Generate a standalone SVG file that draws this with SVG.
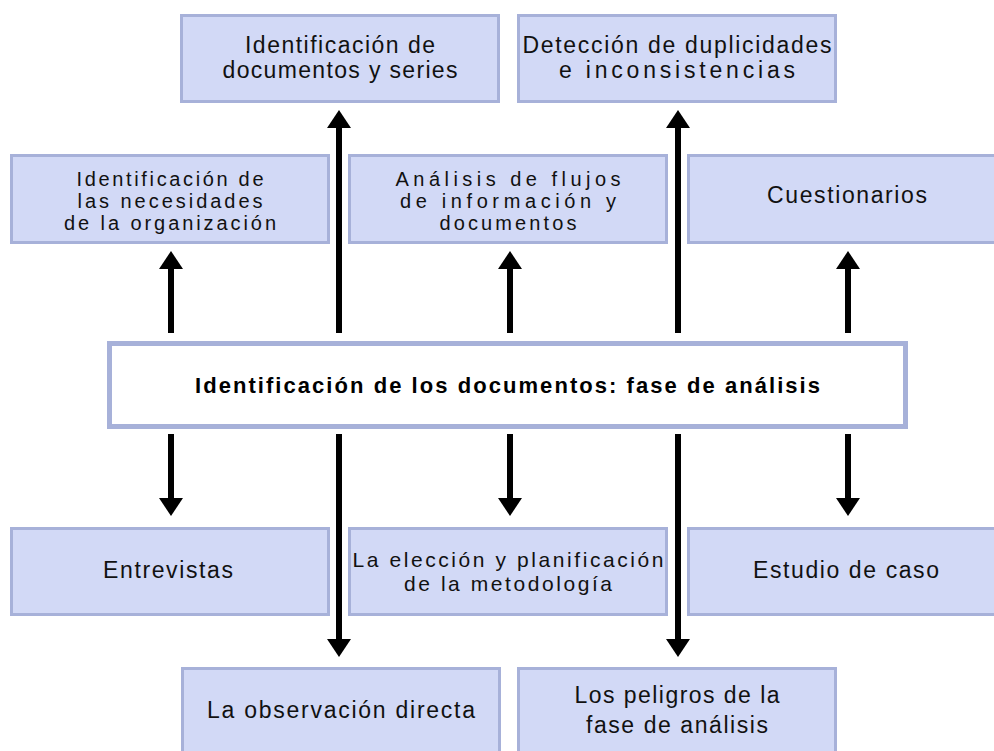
<svg xmlns="http://www.w3.org/2000/svg" width="994" height="751" viewBox="0 0 994 751">
<style>
.box{fill:#d2d9f6;stroke:#a7b1d9;stroke-width:3}
.main{fill:#ffffff;stroke:#a7b1d9;stroke-width:5}
.t{font-family:"Liberation Sans",Arial,sans-serif;font-size:23px;fill:#111;text-anchor:middle}
.s{font-size:20px}
.m{font-size:21px}
.b{font-family:"Liberation Sans",Arial,sans-serif;font-size:22px;font-weight:bold;fill:#000;text-anchor:middle}
.c{stroke:#000;stroke-width:6;fill:none;marker-end:url(#ah)}
</style>
<defs>
<marker id="ah" markerUnits="userSpaceOnUse" markerWidth="20" markerHeight="26" viewBox="0 -13 20 26" refX="1" refY="0" orient="auto" overflow="visible">
<path d="M0,-12 L18,0 L0,12 z" fill="#000"/>
</marker>
</defs>
<rect width="994" height="751" fill="#ffffff"/>
<g id="connectors">
<line class="c" x1="171" y1="333" x2="171" y2="268"/>
<line class="c" x1="510" y1="333" x2="510" y2="268"/>
<line class="c" x1="848" y1="333" x2="848" y2="268"/>
<line class="c" x1="339" y1="333" x2="339" y2="127"/>
<line class="c" x1="678" y1="333" x2="678" y2="127"/>
<line class="c" x1="171" y1="434" x2="171" y2="499"/>
<line class="c" x1="510" y1="434" x2="510" y2="499"/>
<line class="c" x1="848" y1="434" x2="848" y2="499"/>
<line class="c" x1="339" y1="434" x2="339" y2="640"/>
<line class="c" x1="678" y1="434" x2="678" y2="640"/>
</g>
<g id="center">
<rect class="main" x="109.5" y="343.5" width="796" height="83"/>
<text class="b" x="507.5" y="393" textLength="625" lengthAdjust="spacing">Identificación de los documentos: fase de análisis</text>
</g>
<g id="top1">
<rect class="box" x="181.5" y="15.5" width="317" height="86"/>
<text class="t" x="340" y="53" textLength="190" lengthAdjust="spacing">Identificación de</text>
<text class="t" x="340" y="78" textLength="235" lengthAdjust="spacing">documentos y series</text>
</g>
<g id="top2">
<rect class="box" x="518.5" y="15.5" width="317" height="86"/>
<text class="t" x="677" y="53" textLength="309" lengthAdjust="spacing">Detección de duplicidades</text>
<text class="t" x="677" y="78" textLength="236" lengthAdjust="spacing">e inconsistencias</text>
</g>
<g id="mid1">
<rect class="box" x="11.5" y="155.5" width="317" height="87"/>
<text class="t s" x="170" y="186" textLength="187" lengthAdjust="spacing">Identificación de</text>
<text class="t s" x="170" y="208" textLength="185" lengthAdjust="spacing">las necesidades</text>
<text class="t s" x="170" y="230" textLength="212" lengthAdjust="spacing">de la organización</text>
</g>
<g id="mid2">
<rect class="box" x="349.5" y="155.5" width="317" height="87"/>
<text class="t s" x="508" y="186" textLength="225" lengthAdjust="spacing">Análisis de flujos</text>
<text class="t s" x="508" y="208" textLength="216" lengthAdjust="spacing">de información y</text>
<text class="t s" x="508" y="230" textLength="137" lengthAdjust="spacing">documentos</text>
</g>
<g id="mid3">
<rect class="box" x="688.5" y="155.5" width="317" height="87"/>
<text class="t" x="847" y="203" textLength="160" lengthAdjust="spacing">Cuestionarios</text>
</g>
<g id="bot1">
<rect class="box" x="11.5" y="528.5" width="317" height="86"/>
<text class="t" x="168" y="578" textLength="130" lengthAdjust="spacing">Entrevistas</text>
</g>
<g id="bot2">
<rect class="box" x="349.5" y="528.5" width="317" height="86"/>
<text class="t m" x="508" y="567" textLength="311" lengthAdjust="spacing">La elección y planificación</text>
<text class="t m" x="508" y="591" textLength="208" lengthAdjust="spacing">de la metodología</text>
</g>
<g id="bot3">
<rect class="box" x="688.5" y="528.5" width="317" height="86"/>
<text class="t" x="846" y="578" textLength="186" lengthAdjust="spacing">Estudio de caso</text>
</g>
<g id="low1">
<rect class="box" x="182.5" y="668.5" width="317" height="87"/>
<text class="t" x="341" y="718" textLength="268" lengthAdjust="spacing">La observación directa</text>
</g>
<g id="low2">
<rect class="box" x="518.5" y="668.5" width="317" height="87"/>
<text class="t" x="677" y="703" textLength="205" lengthAdjust="spacing">Los peligros de la</text>
<text class="t" x="677" y="733" textLength="182" lengthAdjust="spacing">fase de análisis</text>
</g>
</svg>
